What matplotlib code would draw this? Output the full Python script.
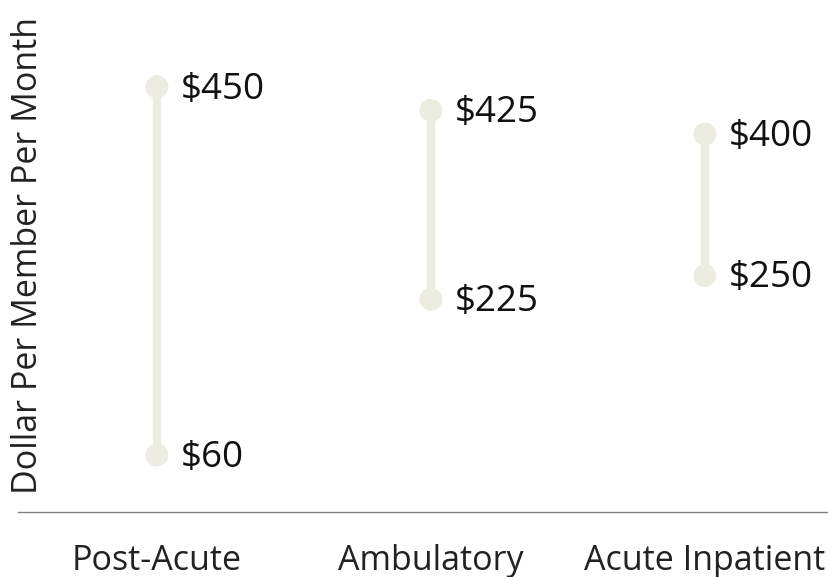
import numpy as np
import matplotlib.pyplot as plt

categories = ["Post-Acute", "Ambulatory", "Acute Inpatient"]
low = [60, 225, 250]
high = [450, 425, 400]

plt.rcParams['font.family'] = ['Open Sans', 'DejaVu Sans']

fig = plt.figure(figsize=(8.29, 5.77), dpi=100)
ax = fig.add_axes([18 / 829, (577 - 511.6) / 577, 811 / 829, 511.6 / 577])

x = np.arange(len(categories))
col = '#EDECE2'
ax.vlines(x, low, high, color=col, linewidth=6, zorder=1)
ax.scatter(x, low, s=16.5 ** 2, color=col, zorder=2, edgecolors='none')
ax.scatter(x, high, s=16.5 ** 2, color=col, zorder=2, edgecolors='none')

for i in range(len(x)):
    for v in (low[i], high[i]):
        ax.annotate("$" + str(v), (x[i], v), xytext=(17, -2), textcoords='offset points',
                    va='center', ha='left', fontsize=26.5, color='#111111')

ax.set_xlim(-0.507, 2.453)
ax.set_ylim(0, 542)
ax.set_xticks(x)
ax.set_xticklabels(categories, fontsize=24.5, color='#222222')
ax.tick_params(axis='x', length=0, pad=23)
ax.set_yticks([])
for s in ['top', 'right', 'left']:
    ax.spines[s].set_visible(False)
ax.spines['bottom'].set_color('#808080')
ax.spines['bottom'].set_linewidth(1)

fig.text(28 / 829, 1 - 255 / 577, "Dollar Per Member Per Month", rotation=90,
         ha='center', va='center', fontsize=24.5, color='#222222')

fig.savefig("out.png", dpi=100)
